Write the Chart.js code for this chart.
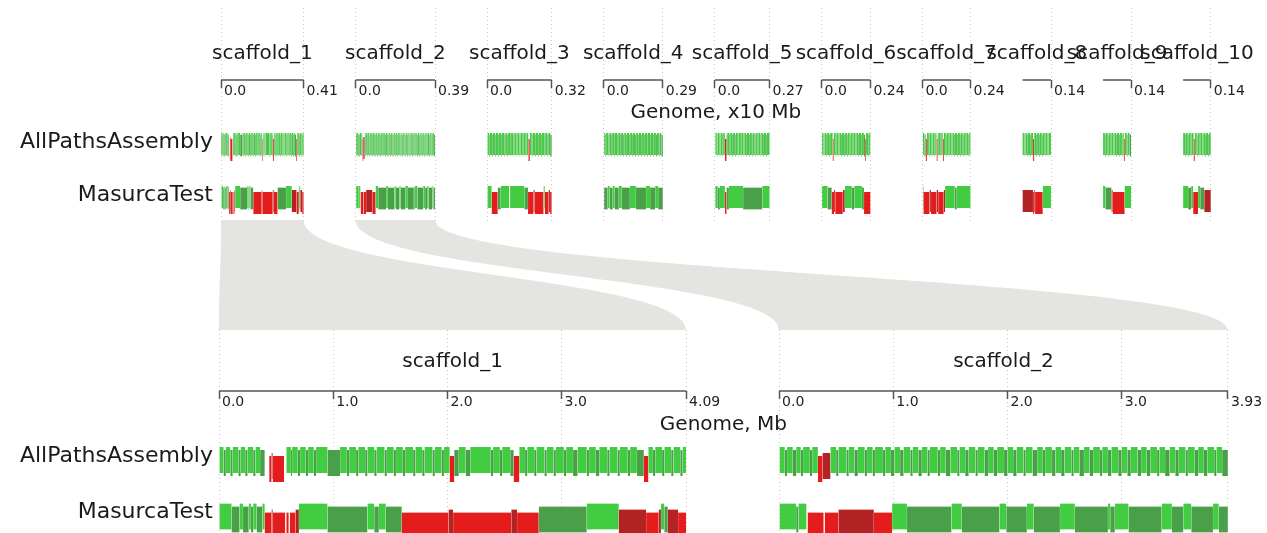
<!DOCTYPE html>
<html lang="en">
<head>
  <meta charset="UTF-8" />
  <title>Contig alignment viewer</title>
  <script src="https://cdn.jsdelivr.net/npm/chart.js"></script>
  <style>
    body { margin: 0; background: #fff; }
    .stage { position: relative; width: 1267px; height: 533px; overflow: hidden; }
    canvas { position: absolute; left: 0; }
    #topChart { top: 0; }
    #zoomChart { top: 215px; }
  </style>
</head>
<body>
  <div class="stage">
    <canvas id="topChart" width="1267" height="222"></canvas>
    <canvas id="zoomChart" width="1267" height="318"></canvas>
  </div>

  <script>
    // ---- data (positions in Mb) ----
    const scaffoldNames = ['scaffold_1', 'scaffold_2', 'scaffold_3', 'scaffold_4', 'scaffold_5',
      'scaffold_6', 'scaffold_7', 'scaffold_8', 'scaffold_9', 'scaffold_10'];
    const scaffoldLengths = [4.09, 3.93, 3.20, 2.93, 2.71, 2.42, 2.38, 1.41, 1.39, 1.37];
    const assemblies = ['AllPathsAssembly', 'MasurcaTest'];
    const zoomedScaffolds = [0, 1];
    const zoomTicks = [0, 1, 2, 3];

    // contigs: edge, kind, edge, kind, ... edge
    // L / D = correct contig (light / dark), R / K = misassembled (red / dark red), _ = gap
    const allPathsContigs = [
      [0,'L',.04,'D',.06,'L',.10,'D',.12,'L',.17,'D',.19,'L',.23,'D',.25,'L',.30,'D',.32,'L',.36,'D',.40,'_',.44,'R',.46,'K',.47,'R',.57,'_',.59,
       'L',.63,'D',.64,'L',.69,'D',.71,'L',.76,'D',.78,'L',.83,'D',.85,'L',.95,'D',1.06,'L',1.12,'D',1.14,'L',1.20,'D',1.22,'L',1.28,'D',1.30,
       'L',1.36,'D',1.38,'L',1.45,'D',1.47,'L',1.53,'D',1.55,'L',1.61,'D',1.63,'L',1.70,'D',1.72,'L',1.78,'D',1.80,'L',1.87,'D',1.89,'L',1.95,
       'D',1.97,'L',2.02,'R',2.06,'D',2.10,'L',2.16,'D',2.20,'L',2.38,'D',2.40,'L',2.46,'D',2.48,'L',2.55,'D',2.58,'R',2.63,'L',2.68,'D',2.70,
       'L',2.76,'D',2.78,'L',2.85,'D',2.87,'L',2.93,'D',2.95,'L',3.02,'D',3.04,'L',3.10,'D',3.14,'L',3.22,'D',3.24,'L',3.30,'D',3.33,'L',3.40,
       'D',3.42,'L',3.49,'D',3.51,'L',3.58,'D',3.60,'L',3.66,'D',3.72,'R',3.76,'L',3.80,'D',3.82,'L',3.88,'D',3.90,'L',3.96,'D',3.98,'L',4.04,
       'D',4.06,'L',4.09],
      [0,'L',.05,'D',.07,'L',.12,'D',.15,'L',.19,'D',.21,'L',.27,'D',.29,'L',.34,'R',.38,'K',.45,'L',.50,'D',.52,'L',.59,'D',.61,'L',.66,'D',.69,
       'L',.75,'D',.77,'L',.82,'D',.84,'L',.91,'D',.93,'L',.98,'D',1.01,'L',1.06,'D',1.09,'L',1.15,'D',1.17,'L',1.22,'D',1.25,'L',1.30,'D',1.32,
       'L',1.39,'D',1.41,'L',1.46,'D',1.50,'L',1.56,'D',1.58,'L',1.63,'D',1.66,'L',1.72,'D',1.74,'L',1.80,'D',1.83,'L',1.88,'D',1.91,'L',1.97,
       'D',2.00,'L',2.05,'D',2.08,'L',2.14,'D',2.16,'L',2.22,'D',2.26,'L',2.31,'D',2.33,'L',2.39,'D',2.42,'L',2.47,'D',2.50,'L',2.56,'D',2.58,
       'L',2.63,'D',2.67,'L',2.72,'D',2.75,'L',2.81,'D',2.83,'L',2.88,'D',2.91,'L',2.97,'D',3.00,'L',3.05,'D',3.08,'L',3.14,'D',3.17,'L',3.22,
       'D',3.25,'L',3.31,'D',3.33,'L',3.38,'D',3.42,'L',3.47,'D',3.50,'L',3.56,'D',3.58,'L',3.64,'D',3.67,'L',3.72,'D',3.75,'L',3.81,'D',3.83,
       'L',3.88,'D',3.93],
      [0,'L',.10,'D',.13,'L',.26,'D',.29,'L',.40,'D',.44,'L',.55,'D',.58,'L',.71,'D',.74,'L',.86,'D',.90,'L',1.00,'D',1.04,'L',1.17,'D',1.19,
       'L',1.31,'D',1.35,'L',1.46,'D',1.50,'L',1.61,'D',1.65,'L',1.77,'D',1.80,'L',1.92,'D',1.95,'L',2.05,'R',2.12,'L',2.22,'D',2.26,'L',2.39,
       'D',2.41,'L',2.53,'D',2.57,'L',2.68,'D',2.72,'L',2.85,'D',2.88,'L',2.99,'D',3.03,'L',3.13,'D',3.20],
      [0,'L',.09,'D',.12,'L',.24,'D',.28,'L',.38,'D',.42,'L',.54,'D',.56,'L',.68,'D',.72,'L',.83,'D',.86,'L',.97,'D',1.02,'L',1.12,'D',1.15,
       'L',1.27,'D',1.31,'L',1.42,'D',1.45,'L',1.56,'D',1.61,'L',1.71,'D',1.74,'L',1.86,'D',1.90,'L',2.00,'D',2.04,'L',2.15,'D',2.18,'L',2.30,
       'D',2.34,'L',2.45,'D',2.48,'L',2.59,'D',2.64,'L',2.74,'D',2.77,'L',2.86,'D',2.93],
      [0,'L',.10,'D',.13,'L',.24,'D',.28,'L',.38,'D',.41,'L',.50,'R',.58,'D',.61,'L',.72,'D',.76,'L',.86,'D',.89,'L',1.00,'D',1.04,'L',1.14,
       'D',1.17,'L',1.29,'D',1.31,'L',1.42,'D',1.46,'L',1.56,'D',1.59,'L',1.70,'D',1.74,'L',1.84,'D',1.87,'L',1.98,'D',2.02,'L',2.12,'D',2.15,
       'L',2.26,'D',2.30,'L',2.40,'D',2.43,'L',2.54,'D',2.58,'L',2.71],
      [0,'L',.10,'D',.14,'L',.24,'D',.27,'L',.38,'D',.42,'L',.55,'R',.60,'L',.70,'D',.73,'L',.84,'D',.88,'L',.98,'D',1.01,'L',1.12,'D',1.16,
       'L',1.26,'D',1.29,'L',1.40,'D',1.44,'L',1.54,'D',1.57,'L',1.68,'D',1.72,'L',1.82,'D',1.85,'L',1.96,'D',1.99,'L',2.10,'D',2.16,'R',2.20,
       'L',2.32,'D',2.35,'L',2.42],
      [0,'L',.10,'D',.16,'R',.22,'L',.32,'D',.35,'L',.46,'D',.50,'L',.60,'D',.63,'L',.70,'R',.75,'D',.78,'L',.90,'D',.93,'L',1.01,'R',1.06,
       'L',1.16,'D',1.20,'L',1.30,'D',1.33,'L',1.44,'D',1.48,'L',1.58,'D',1.61,'L',1.72,'D',1.76,'L',1.86,'D',1.89,'L',2.00,'D',2.04,'L',2.14,
       'D',2.17,'L',2.28,'D',2.31,'L',2.38],
      [0,'L',.10,'D',.14,'L',.24,'D',.27,'L',.38,'D',.42,'L',.52,'R',.58,'L',.68,'D',.72,'L',.82,'D',.85,'L',.96,'D',1.00,'L',1.10,'D',1.13,
       'L',1.24,'D',1.28,'L',1.41],
      [0,'L',.10,'D',.13,'L',.24,'D',.28,'L',.38,'D',.41,'L',.52,'D',.56,'L',.66,'D',.69,'L',.80,'D',.84,'L',.94,'D',.97,'L',1.03,'R',1.08,
       'L',1.18,'D',1.22,'L',1.32,'D',1.39],
      [0,'L',.10,'D',.13,'L',.24,'D',.28,'L',.38,'D',.41,'L',.52,'R',.58,'L',.68,'D',.72,'L',.82,'D',.85,'L',.96,'D',1.00,'L',1.10,'D',1.13,
       'L',1.24,'D',1.28,'L',1.37]
    ];
    const masurcaContigs = [
      [0,'L',.11,'D',.18,'L',.21,'D',.26,'L',.28,'D',.30,'L',.33,'D',.38,'L',.40,'R',.46,'K',.47,'R',.58,'_',.59,'R',.61,'_',.62,'R',.67,'K',.70,
       'L',.95,'D',1.30,'L',1.36,'D',1.40,'L',1.46,'D',1.60,'R',2.01,'K',2.05,'R',2.56,'K',2.61,'R',2.80,'D',3.22,'L',3.50,'K',3.74,'R',3.85,
       'K',3.87,'L',3.90,'D',3.93,'K',4.02,'R',4.09],
      [0,'L',.15,'D',.17,'L',.24,'_',.25,'R',.39,'_',.40,'R',.52,'K',.83,'R',.99,'L',1.12,'D',1.51,'L',1.60,'D',1.93,'L',1.99,'D',2.17,'L',2.23,
       'D',2.46,'L',2.59,'D',2.88,'L',2.90,'D',2.94,'L',3.06,'D',3.35,'L',3.44,'D',3.54,'L',3.61,'D',3.80,'L',3.85,'D',3.93],
      [0,'L',.23,'R',.53,'D',.68,'L',1.10,'_',1.14,'L',1.85,'D',2.03,'R',2.30,'K',2.36,'R',2.80,'L',2.86,'R',3.05,'K',3.12,'R',3.20],
      [0,'D',.20,'L',.30,'D',.45,'L',.55,'D',.75,'L',.90,'D',1.30,'L',1.60,'D',2.10,'L',2.30,'D',2.55,'L',2.70,'D',2.93],
      [0,'L',.15,'D',.25,'L',.50,'R',.58,'D',.70,'L',1.40,'D',2.35,'L',2.71],
      [0,'L',.30,'D',.50,'R',.62,'K',.68,'R',1.05,'K',1.15,'L',1.50,'D',1.62,'L',2.00,'D',2.10,'R',2.42],
      [0,'L',.05,'R',.35,'K',.42,'R',.70,'K',.78,'R',1.05,'K',1.12,'L',1.60,'D',1.70,'L',2.38],
      [0,'K',.52,'R',.58,'K',.62,'R',1.00,'L',1.41],
      [0,'L',.12,'D',.42,'K',.48,'R',1.07,'L',1.39],
      [0,'L',.25,'D',.40,'L',.50,'R',.74,'L',.85,'D',1.05,'K',1.37]
    ];

    // ---- look & layout ----
    const KIND_COLORS = { L: '#42cc42', D: '#4aa048', R: '#e41c1c', K: '#b42323' };
    const W = 1267;
    const PLOT_LEFT = 217;
    const TOP_PX_PER_MB = 20.2, TOP_GAP = 52, TOP_FIRST = 221;
    const ZOOM_PX_PER_MB = 114.2, ZOOM_GAP = 93, ZOOM_FIRST = 219;

    const TOP = { min: 8, max: 222, axisY: 80, titleY: 54, genomeY: 113,
      labelY: [142, 195], barY: [144, 197], barH: 22, shift: { L: 0, D: 1.5, K: 4, R: 6 } };
    const ZOOM = { min: 330, max: 533, axisY: 391, titleY: 362, genomeY: 425,
      labelY: [456, 512], barY: [460, 516.5], barH: 26, shift: { L: 0, D: 3, K: 6, R: 9 },
      linkTop: 220, linkBottom: 330 };

    Chart.defaults.font.family = "'DejaVu Sans', sans-serif";
    Chart.defaults.color = '#222';

    const topStarts = [];
    let cursor = TOP_FIRST;
    scaffoldLengths.forEach(len => { topStarts.push(cursor); cursor += len * TOP_PX_PER_MB + TOP_GAP; });
    const zoomStarts = [];
    cursor = ZOOM_FIRST;
    zoomedScaffolds.forEach(i => { zoomStarts.push(cursor); cursor += scaffoldLengths[i] * ZOOM_PX_PER_MB + ZOOM_GAP; });

    // x axis for one panel: its 0..len range lands on the panel's pixels
    function panelAxis(startPx, pxPerMb, axisY, tickValues, fmt, show) {
      const min = -(startPx - PLOT_LEFT) / pxPerMb;
      return {
        type: 'linear', axis: 'x', display: show, position: { y: axisY },
        min, max: min + (W - PLOT_LEFT) / pxPerMb, bounds: 'data', stacked: false,
        afterBuildTicks: s => { s.ticks = tickValues.map(v => ({ value: v })); },
        ticks: { callback: fmt, autoSkip: false, maxRotation: 0, minRotation: 0, align: 'start',
          labelOffset: 3, padding: -5, color: '#222', font: { size: 14 } },
        grid: { color: '#c8c8c8', lineWidth: 1, tickLength: 8, tickColor: '#555', tickWidth: 1.5, tickBorderDash: [] },
        border: { display: false, dash: [1, 3] }
      };
    }

    function rowAxis(sec) {
      return {
        type: 'linear', reverse: true, min: sec.min, max: sec.max, bounds: 'data', offset: false,
        afterFit: s => { s.width = PLOT_LEFT; s.paddingTop = 0; s.paddingBottom = 0; },
        afterBuildTicks: s => { s.ticks = sec.labelY.map(v => ({ value: v })); },
        ticks: { callback: v => assemblies[sec.labelY.indexOf(v)], autoSkip: false, padding: 4,
          color: '#1a1a1a', font: { size: 22 } },
        grid: { display: false, drawTicks: false, offset: false },
        border: { display: false }
      };
    }

    function contigDataset(contigs, xAxisID, baseY, sec) {
      const data = [];
      for (let i = 0; i + 2 < contigs.length; i += 2) {
        const kind = contigs[i + 1];
        if (!KIND_COLORS[kind]) continue;
        data.push({ x: [contigs[i], contigs[i + 2]], y: baseY + sec.shift[kind], kind });
      }
      return {
        type: 'bar', xAxisID, yAxisID: 'y', data,
        backgroundColor: data.map(d => KIND_COLORS[d.kind]),
        borderColor: 'rgba(255,255,255,0.35)',
        borderWidth: { left: 0.4, right: 0.4, top: 0, bottom: 0 },
        borderSkipped: false, barThickness: sec.barH, stack: 'contigs'
      };
    }

    function axisLine(xAxisID, len, y) {
      return {
        type: 'line', indexAxis: 'x', xAxisID, yAxisID: 'y',
        data: [{ x: 0, y }, { x: len, y }],
        borderColor: '#555', borderWidth: 1.5, pointRadius: 0, fill: false
      };
    }

    // scaffold names + "Genome" caption, placed through the panel scales
    function labelPlugin(panels, sec, caption) {
      return {
        id: 'panelLabels',
        afterDraw(chart) {
          const { ctx } = chart;
          const y = chart.scales.y;
          ctx.save();
          ctx.fillStyle = '#1a1a1a';
          ctx.textAlign = 'center';
          ctx.textBaseline = 'middle';
          ctx.font = "20px 'DejaVu Sans'";
          panels.forEach(p => {
            const sc = chart.scales[p.axis];
            const mid = (sc.getPixelForValue(0) + sc.getPixelForValue(p.len)) / 2;
            ctx.fillText(p.name, mid, y.getPixelForValue(sec.titleY));
          });
          const first = panels[0], last = panels[panels.length - 1];
          const x0 = chart.scales[first.axis].getPixelForValue(0);
          const x1 = chart.scales[last.axis].getPixelForValue(last.len);
          ctx.fillText(caption, (x0 + x1) / 2, y.getPixelForValue(sec.genomeY));
          ctx.restore();
        }
      };
    }

    const baseOptions = {
      responsive: false, maintainAspectRatio: false, devicePixelRatio: 1,
      animation: false, events: [], indexAxis: 'y',
      plugins: { legend: { display: false }, tooltip: { enabled: false } }
    };

    // ---- overview (all scaffolds, x10 Mb) ----
    const topScales = { y: rowAxis(TOP) };
    const topDatasets = [];
    const topPanels = [];
    scaffoldLengths.forEach((len, i) => {
      const id = 'x' + i;
      const tickValues = len < 2 ? [len] : [0, len];
      topScales[id] = panelAxis(topStarts[i], TOP_PX_PER_MB, TOP.axisY, tickValues,
        v => (v === 0 ? '0.0' : (v / 10).toFixed(2)), true);
      topPanels.push({ axis: id, len, name: scaffoldNames[i] });
      topDatasets.push(axisLine(id, len, TOP.axisY));
      topDatasets.push(contigDataset(allPathsContigs[i], id, TOP.barY[0], TOP));
      topDatasets.push(contigDataset(masurcaContigs[i], id, TOP.barY[1], TOP));
    });

    new Chart(document.getElementById('topChart'), {
      type: 'bar',
      data: { datasets: topDatasets },
      options: { ...baseOptions, layout: { padding: { top: TOP.min, left: 0, right: 0, bottom: 0 } }, scales: topScales },
      plugins: [labelPlugin(topPanels, TOP, 'Genome, x10 Mb')]
    });

    // ---- zoomed scaffolds (Mb) ----
    const zoomScales = { y: rowAxis(ZOOM) };
    const zoomDatasets = [];
    const zoomPanels = [];
    zoomedScaffolds.forEach((s, j) => {
      const len = scaffoldLengths[s];
      const id = 'xb' + j;
      zoomScales[id] = panelAxis(zoomStarts[j], ZOOM_PX_PER_MB, ZOOM.axisY, zoomTicks.concat([len]),
        v => (v === len ? v.toFixed(2) : v.toFixed(1)), true);
      // same mapping as the overview panel, used only for the connector band
      zoomScales['xt' + j] = panelAxis(topStarts[s], TOP_PX_PER_MB, ZOOM.axisY, [], () => '', false);
      zoomPanels.push({ axis: id, len, name: scaffoldNames[s] });
      zoomDatasets.push(axisLine(id, len, ZOOM.axisY));
      zoomDatasets.push(contigDataset(allPathsContigs[s], id, ZOOM.barY[0], ZOOM));
      zoomDatasets.push(contigDataset(masurcaContigs[s], id, ZOOM.barY[1], ZOOM));
    });

    const connectorPlugin = {
      id: 'zoomConnectors',
      beforeDatasetsDraw(chart) {
        const { ctx } = chart;
        const y = chart.scales.y;
        const yTop = y.getPixelForValue(ZOOM.linkTop);
        const yBot = y.getPixelForValue(ZOOM.linkBottom);
        const yMid = (yTop + yBot) / 2;
        ctx.save();
        ctx.fillStyle = '#e4e5e0';
        zoomedScaffolds.forEach((s, j) => {
          const len = scaffoldLengths[s];
          const t = chart.scales['xt' + j], b = chart.scales['xb' + j];
          const a0 = t.getPixelForValue(0), a1 = t.getPixelForValue(len);
          const b0 = b.getPixelForValue(0), b1 = b.getPixelForValue(len);
          ctx.beginPath();
          ctx.moveTo(a0, yTop);
          ctx.lineTo(a1, yTop);
          ctx.bezierCurveTo(a1, yMid, b1, yMid, b1, yBot);
          ctx.lineTo(b0, yBot);
          ctx.bezierCurveTo(b0, yMid, a0, yMid, a0, yTop);
          ctx.closePath();
          ctx.fill();
        });
        ctx.restore();
      }
    };

    new Chart(document.getElementById('zoomChart'), {
      type: 'bar',
      data: { datasets: zoomDatasets },
      options: { ...baseOptions, layout: { padding: { top: ZOOM.min - 215, left: 0, right: 0, bottom: 0 } }, scales: zoomScales },
      plugins: [connectorPlugin, labelPlugin(zoomPanels, ZOOM, 'Genome, Mb')]
    });
  </script>
</body>
</html>
